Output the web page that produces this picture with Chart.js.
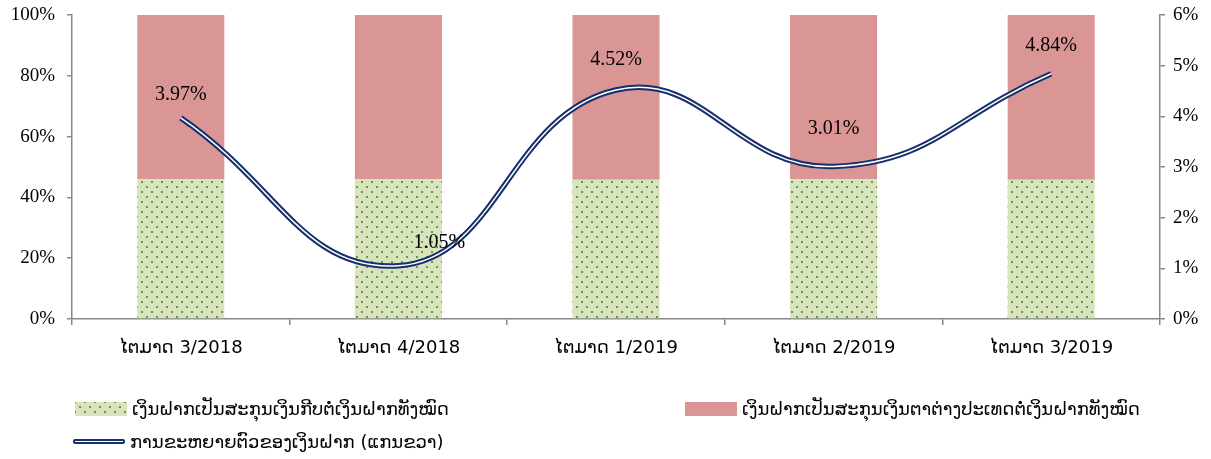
<!DOCTYPE html>
<html>
<head>
<meta charset="utf-8">
<script src="https://cdn.jsdelivr.net/npm/chart.js@4"></script>
<style>
    body { margin: 0; background: #fff; }
    #wrap { position: relative; width: 1211px; height: 459px; }
    #chart { position: absolute; left: 0; top: 0; }
    .legend-item { position: absolute; display: flex; align-items: center; font-family: "DejaVu Sans", sans-serif; font-size: 18px; color: #000; white-space: nowrap; }
    .legend-item .mark { width: 52px; height: 14px; margin-right: 5px; }
    .dots { background-color: #d7e4bd; background-image: radial-gradient(#76923c 0.9px, transparent 1.3px), radial-gradient(#76923c 0.9px, transparent 1.3px); background-size: 10px 10px; background-position: 0 0, 5px 5px; }
    .red { background: #d99694; }
    .dline { height: 1px !important; background: #fff; border: 2px solid #17306b; box-sizing: content-box; width: 48px !important; border-radius: 2px; }
</style>
</head>
<body>
<div id="wrap">
    <canvas id="chart" width="1211" height="459"></canvas>
    <div class="legend-item" style="left:75px; top:398px;"><span class="mark dots"></span><span>ເງິນຝາກເປັນສະກຸນເງິນກີບຕໍ່ເງິນຝາກທັງໝົດ</span></div>
    <div class="legend-item" style="left:685px; top:398px;"><span class="mark red"></span><span>ເງິນຝາກເປັນສະກຸນເງິນຕາຕ່າງປະເທດຕໍ່ເງິນຝາກທັງໝົດ</span></div>
    <div class="legend-item" style="left:73px; top:431px;"><span class="mark dline"></span><span>ການຂະຫຍາຍຕົວຂອງເງິນຝາກ (ແກນຂວາ)</span></div>
</div>
<script>
const quarters = ["ໄຕມາດ 3/2018", "ໄຕມາດ 4/2018", "ໄຕມາດ 1/2019", "ໄຕມາດ 2/2019", "ໄຕມາດ 3/2019"];
const kipShare = [46, 46, 45.8, 46, 45.8];
const foreignShare = [54, 54, 54.2, 54, 54.2];
const depositGrowth = [3.97, 1.05, 4.52, 3.01, 4.84];
const leftTicks = ["0%", "20%", "40%", "60%", "80%", "100%"];
const rightTicks = ["0%", "1%", "2%", "3%", "4%", "5%", "6%"];

function dotPattern() {
    const c = document.createElement("canvas");
    c.width = 10;
    c.height = 10;
    const g = c.getContext("2d");
    g.fillStyle = "#d7e4bd";
    g.fillRect(0, 0, 10, 10);
    g.fillStyle = "#6f9a3a";
    g.fillRect(1, 1, 2, 2);
    g.fillRect(6, 6, 2, 2);
    return g.createPattern(c, "repeat");
}

// label offsets relative to each point (dx, dy)
const labelOffsets = [[0, -23], [41, -23], [0, -30], [0, -38], [0, -28]];

const growthLabels = {
    id: "growthLabels",
    afterDatasetsDraw(chart) {
        const meta = chart.getDatasetMeta(2);
        const ctx = chart.ctx;
        ctx.save();
        ctx.font = "20px 'Liberation Serif'";
        ctx.fillStyle = "#000";
        ctx.textAlign = "center";
        ctx.textBaseline = "middle";
        meta.data.forEach(function (pt, i) {
            const off = labelOffsets[i];
            ctx.fillText(depositGrowth[i].toFixed(2) + "%", pt.x + off[0], pt.y + off[1]);
        });
        ctx.restore();
    }
};

function fixVertical(width) {
    return function (scale) {
        scale.width = width;
        scale.paddingTop = 0;
        scale.paddingBottom = 0;
    };
}

const axisGray = "#888888";
const serif = { family: "'Liberation Serif'", size: 19 };

new Chart(document.getElementById("chart"), {
    type: "bar",
    data: {
        labels: quarters,
        datasets: [
            {
                label: "kip",
                data: kipShare,
                backgroundColor: dotPattern(),
                yAxisID: "y",
                order: 2,
                barPercentage: 0.4,
                categoryPercentage: 1
            },
            {
                label: "foreign",
                data: foreignShare,
                backgroundColor: "#d99694",
                yAxisID: "y",
                order: 3,
                barPercentage: 0.4,
                categoryPercentage: 1
            },
            {
                type: "line",
                label: "growth",
                data: depositGrowth,
                yAxisID: "y1",
                borderColor: "#17306b",
                borderWidth: 5.5,
                tension: 0.45,
                pointRadius: 0,
                fill: false,
                order: 1
            },
            {
                type: "line",
                label: "growth-core",
                data: depositGrowth,
                yAxisID: "y1",
                borderColor: "#ffffff",
                borderWidth: 1.5,
                tension: 0.45,
                pointRadius: 0,
                fill: false,
                order: 0
            }
        ]
    },
    options: {
        responsive: false,
        animation: false,
        layout: { padding: { top: 15, left: 0, right: 0, bottom: 0 } },
        plugins: {
            legend: { display: false },
            tooltip: { enabled: false }
        },
        scales: {
            x: {
                stacked: true,
                offset: true,
                afterFit: function (scale) { scale.height = 140; },
                grid: { offset: true, drawOnChartArea: false, color: axisGray, tickLength: 6, lineWidth: 1.5 },
                border: { color: axisGray, width: 1.5 },
                ticks: { color: "#000", font: { family: "'DejaVu Sans'", size: 18 }, padding: 13, maxRotation: 0 }
            },
            y: {
                stacked: true,
                min: 0,
                max: 100,
                position: "left",
                afterFit: fixVertical(72),
                grid: { drawOnChartArea: false, color: axisGray, tickLength: 5, lineWidth: 1.5 },
                border: { color: axisGray, width: 1.5 },
                ticks: {
                    stepSize: 20,
                    color: "#000",
                    font: serif,
                    padding: 12,
                    callback: function (v, i) { return leftTicks[i]; }
                }
            },
            y1: {
                min: 0,
                max: 6,
                position: "right",
                afterFit: fixVertical(51),
                grid: { drawOnChartArea: false, color: axisGray, tickLength: 5, lineWidth: 1.5 },
                border: { color: axisGray, width: 1.5 },
                ticks: {
                    stepSize: 1,
                    color: "#000",
                    font: serif,
                    padding: 8,
                    callback: function (v, i) { return rightTicks[i]; }
                }
            }
        }
    },
    plugins: [growthLabels]
});
</script>
</body>
</html>
